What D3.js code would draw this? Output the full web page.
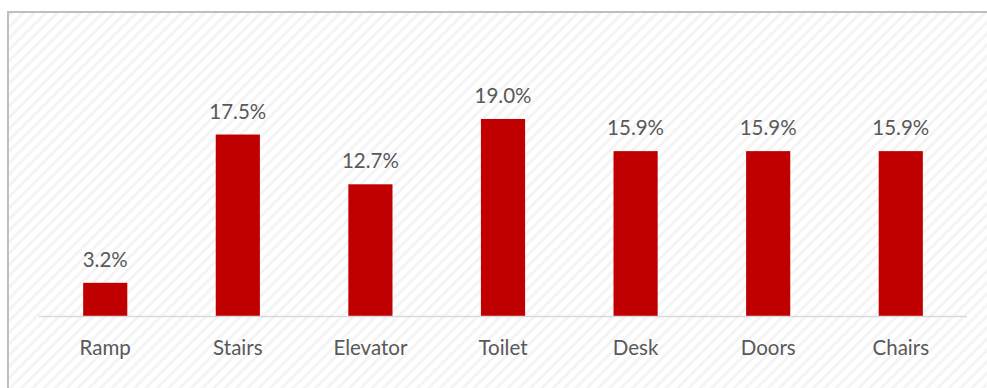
<!DOCTYPE html>
<html>
<head>
<meta charset="utf-8">
<script src="https://cdn.jsdelivr.net/npm/d3@7"></script>
<style>
  html, body { margin: 0; padding: 0; background: #ffffff; }
  svg { display: block; }
</style>
</head>
<body>
<svg id="chart" width="987" height="388"></svg>
<script>
// Share of respondents reporting each accessibility barrier
const categories = ["Ramp", "Stairs", "Elevator", "Toilet", "Desk", "Doors", "Chairs"];
const values = [3.2, 17.5, 12.7, 19.0, 15.9, 15.9, 15.9];
const valueLabels = ["3.2%", "17.5%", "12.7%", "19.0%", "15.9%", "15.9%", "15.9%"];

const W = 987, H = 388;
const svg = d3.select("#chart");
const defs = svg.append("defs");

// Light upward-diagonal fill for the chart area
const pat = defs.append("pattern")
  .attr("id", "hatch")
  .attr("patternUnits", "userSpaceOnUse")
  .attr("width", 8).attr("height", 8)
  .attr("patternTransform", "rotate(45)");
pat.append("rect").attr("width", 8).attr("height", 8).attr("fill", "#ffffff");
pat.append("rect").attr("x", 0).attr("y", 0).attr("width", 3).attr("height", 8).attr("fill", "#f4f4f4");

// Chart area with its border (runs past the right and bottom edges)
svg.append("rect")
  .attr("x", 8).attr("y", 12)
  .attr("width", W + 20).attr("height", H + 20)
  .attr("fill", "url(#hatch)")
  .attr("stroke", "#bfbfbf")
  .attr("stroke-width", 2);

const x = d3.scaleBand()
  .domain(categories)
  .range([39, 967])
  .paddingInner(0.667)
  .paddingOuter(0.333);

const y = d3.scaleLinear()
  .domain([0, 20])
  .range([316, 108.6]);

// Bars
svg.append("g").selectAll("rect")
  .data(values)
  .join("rect")
  .attr("x", (d, i) => x(categories[i]))
  .attr("y", d => y(d))
  .attr("width", x.bandwidth())
  .attr("height", d => y(0) - y(d))
  .attr("fill", "#c00000");

// Baseline axis
const axis = d3.axisBottom(x).tickSize(0).tickPadding(0);
const gx = svg.append("g")
  .attr("transform", `translate(0,${y(0)})`)
  .call(axis);
gx.select(".domain")
  .attr("d", `M39,0.5H967`)
  .attr("stroke", "#d9d9d9")
  .attr("stroke-width", 1.5);
gx.selectAll(".tick text")
  .attr("y", 39)
  .attr("dy", 0)
  .attr("fill", "#595959")
  .style("font-family", "Lato, 'Open Sans', sans-serif")
  .style("font-size", "20.5px");

// Value labels above bars
svg.append("g").selectAll("text")
  .data(values)
  .join("text")
  .attr("x", (d, i) => x(categories[i]) + x.bandwidth() / 2)
  .attr("y", d => y(d) - 16)
  .attr("text-anchor", "middle")
  .attr("fill", "#595959")
  .style("font-family", "Lato, 'Open Sans', sans-serif")
  .style("font-size", "20.5px")
  .text((d, i) => valueLabels[i]);
</script>
</body>
</html>
